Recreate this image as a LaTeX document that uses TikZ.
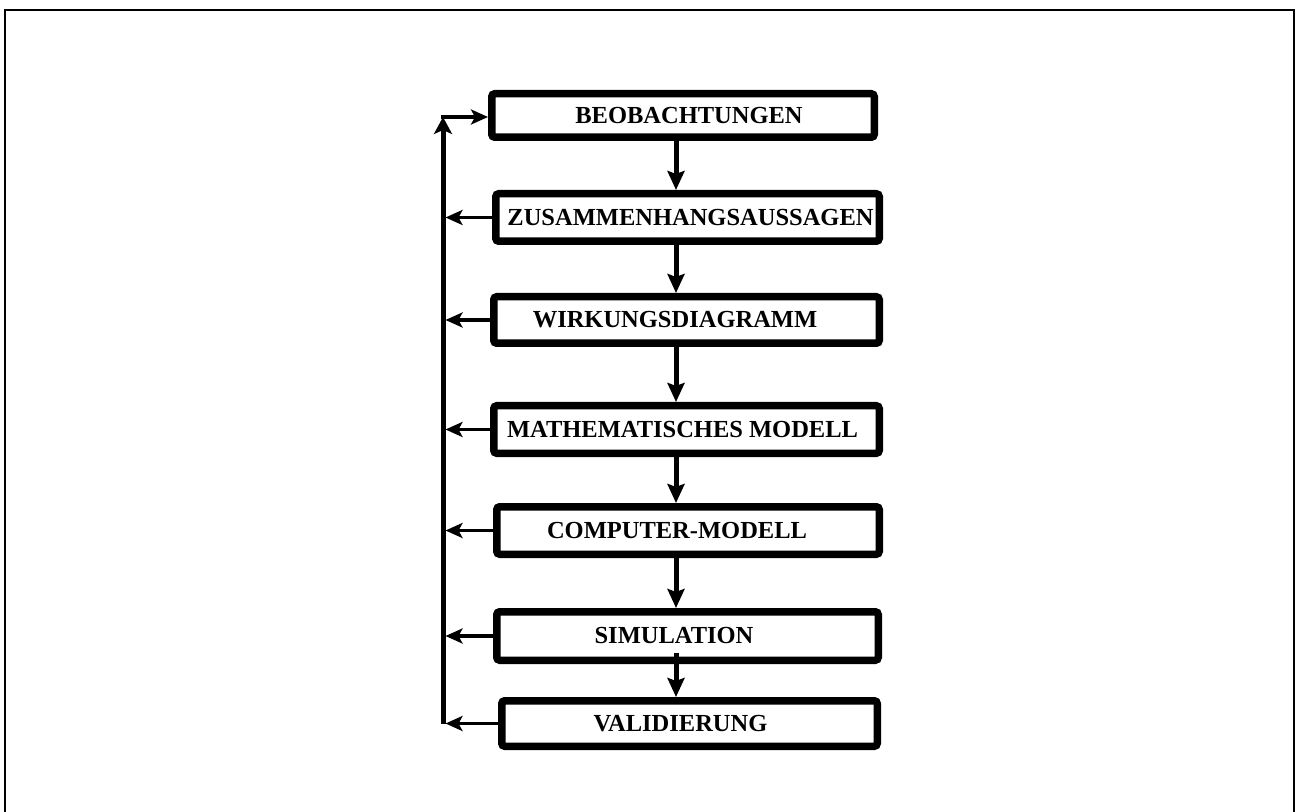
\documentclass[tikz,border=0pt]{standalone}
\usepackage{fontspec}
\setmainfont{Liberation Serif}
\usetikzlibrary{arrows.meta,calc}

\begin{document}
\begin{tikzpicture}[x=0.5pt,y=-0.5pt,
	stage/.style={draw,line width=3.75pt,rounded corners=1.5pt,inner sep=0pt,
		font=\bfseries\fontsize{12.25}{14}\selectfont},
	down/.style={-{Stealth[length=9.5pt,width=8.5pt,inset=1.5pt]},line width=2.5pt},
	back/.style={-{Stealth[length=8.5pt,width=7.5pt,inset=2pt]},line width=1.75pt,shorten >=1.25pt}]
	\useasboundingbox (0,0) rectangle (1295,812);
	\draw[line width=1pt] (5,812) -- (5,10.3) -- (1293.5,10.3) -- (1293.5,812);

	\node[stage,minimum width=191.25pt,minimum height=21.75pt] (b1) at (683,115.5) {\hspace*{6pt}BEOBACHTUNGEN};
	\node[stage,minimum width=191.75pt,minimum height=23.75pt] (b2) at (687.5,217.5) {\hspace*{3pt}ZUSAMMENHANGSAUSSAGEN};
	\node[stage,minimum width=192.75pt,minimum height=23.25pt] (b3) at (686.5,320) {WIRKUNGSDIAGRAMM\hspace*{11.5pt}};
	\node[stage,minimum width=192.75pt,minimum height=23.75pt] (b4) at (686.5,429.5) {MATHEMATISCHES MODELL\hspace*{4pt}};
	\node[stage,minimum width=191.25pt,minimum height=23.75pt] (b5) at (688,530.5) {COMPUTER-MODELL\hspace*{11pt}};
	\node[stage,minimum width=190.75pt,minimum height=24.25pt] (b6) at (687.5,636) {SIMULATION\hspace*{13.5pt}};
	\node[stage,minimum width=187.75pt,minimum height=22.75pt] (b7) at (689.5,723.5) {VALIDIERUNG\hspace*{9pt}};

	\coordinate (axis) at (676,0);
	\coordinate (spine) at (443,0);
	\coordinate (corner) at (440.5,117);

	% main chain
	\foreach \a/\b in {b1/b2,b2/b3,b3/b4,b4/b5,b5/b6}
		\draw[down] (\a.south -| axis) -- (\b.north -| axis);
	\draw[down] ($(b6.south -| axis)+(0,-11)$) -- (b7.north -| axis);

	% feedback
	\foreach \n in {2,...,7}
		\draw[back] (b\n.west) -- (b\n.west -| spine);
	\draw[line width=2.5pt,-{Stealth[length=8.5pt,width=9pt,inset=2pt]}] (b7.west -| spine) -- (corner -| spine);
	\draw[back,shorten >=0pt] (corner) -- (corner -| b1.west);
\end{tikzpicture}
\end{document}
